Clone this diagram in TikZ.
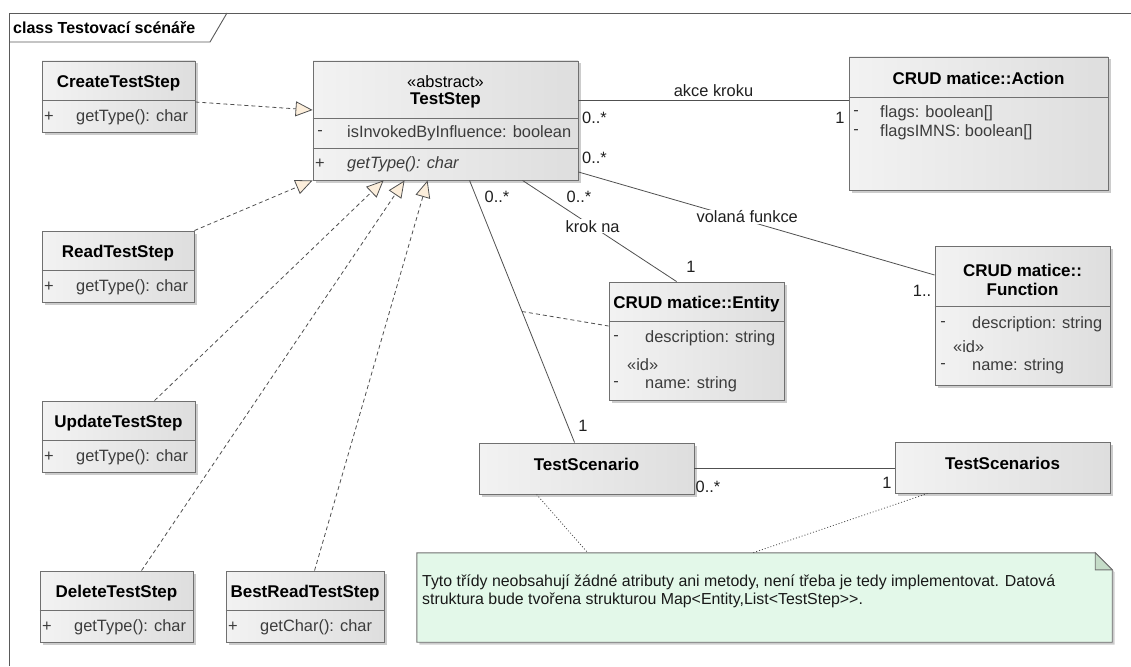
\documentclass[tikz,border=0pt]{standalone}
\usepackage{fontspec}
\setmainfont{Liberation Sans}
\usetikzlibrary{calc,shadows,arrows.meta}
\definecolor{boxborder}{HTML}{707070}
\definecolor{linecol}{HTML}{505050}
\definecolor{framecol}{HTML}{5A5A5A}
\definecolor{attrcol}{HTML}{3C3C3C}
\definecolor{tribeige}{HTML}{FCEEDB}
\definecolor{notefill}{HTML}{E3F8E9}
\definecolor{notefold}{HTML}{C5DCC8}
\tikzset{
  cls/.style={rectangle, draw=boxborder, line width=0.9pt, inner sep=0pt,
    left color=white!95!black, middle color=white, right color=white!87!black,
    drop shadow={shadow xshift=2.5pt, shadow yshift=-2.5pt, fill=black, opacity=0.2}},
  sepline/.style={draw=boxborder, line width=0.9pt},
  ttl/.style={font=\fontsize{17}{19}\selectfont\bfseries, text=black, inner sep=0pt},
  attr/.style={text=attrcol, anchor=west, inner sep=0pt},
  sgn/.style={text=attrcol, inner sep=0pt},
  lbl/.style={text=black!88, inner sep=1pt},
  assoc/.style={draw=linecol, line width=0.8pt},
  real/.style={draw=linecol, line width=0.8pt, dash pattern=on 4pt off 3pt,
    -{Triangle[fill=tribeige, length=17pt, width=15pt]}},
  acls/.style={draw=linecol, line width=0.8pt, dash pattern=on 4pt off 3pt},
  notelink/.style={draw=linecol, line width=0.8pt, dash pattern=on 1pt off 2pt},
}
\newcommand{\clsbox}[5]{%
  \pgfmathsetmacro\bw{#4-#2}\pgfmathsetmacro\bh{#5-#3}%
  \pgfmathsetmacro\bx{(#2+#4)/2}\pgfmathsetmacro\by{(#3+#5)/2}%
  \node[cls, minimum width=\bw pt, minimum height=\bh pt] (#1) at (\bx,\by) {};}
\newcommand{\sepat}[2]{\draw[sepline] (#1.west |- 0,#2) -- (#1.east |- 0,#2);}
\begin{document}
\begin{tikzpicture}[x=1pt,y=-1pt, font=\fontsize{16.4}{19}\selectfont]
\useasboundingbox (0,0) rectangle (1131,666);
\fill[white] (0,0) rectangle (1131,666);
% frame
\draw[framecol, line width=0.9pt] (9,666) -- (9,13) -- (1131,13);
\draw[framecol, line width=0.9pt] (9,42) -- (210,42) -- (227,13);
\node[ttl, font=\fontsize{16}{19}\selectfont\bfseries, anchor=west] (frameT) at (13,28) {class Testovací scénáře};

% ---------- class boxes ----------
\clsbox{Create}{42}{61}{195}{132}
\sepat{Create}{100}
\node[ttl] (createT) at (118.5,83) {CreateTestStep};
\node[sgn] (createS) at (49,117) {+};
\node[attr] (createM) at (76,117) {getType(): char};

\clsbox{Read}{42}{231}{194}{302}
\sepat{Read}{270}
\node[ttl] (readT) at (118,253) {ReadTestStep};
\node[sgn] (readS) at (49,287) {+};
\node[attr] (readM) at (76,287) {getType(): char};

\clsbox{Update}{42}{401}{195}{472}
\sepat{Update}{440}
\node[ttl] (updateT) at (118.5,423) {UpdateTestStep};
\node[sgn] (updateS) at (49,457) {+};
\node[attr] (updateM) at (76,457) {getType(): char};

\clsbox{Delete}{40}{571}{193}{642}
\sepat{Delete}{610}
\node[ttl] (deleteT) at (116.5,593) {DeleteTestStep};
\node[sgn] (deleteS) at (47,627) {+};
\node[attr] (deleteM) at (74,627) {getType(): char};

\clsbox{BestRead}{226}{571}{384}{642}
\sepat{BestRead}{610}
\node[ttl] (bestT) at (305,593) {BestReadTestStep};
\node[sgn] (bestS) at (233,627) {+};
\node[attr] (bestM) at (260,627) {getChar(): char};

\clsbox{TestStep}{313}{61}{578}{180}
\sepat{TestStep}{118}
\sepat{TestStep}{148}
\node[inner sep=0pt, text=black] (tsStereo) at (445.5,82) {«abstract»};
\node[ttl] (tsT) at (445.5,100) {TestStep};
\node[sgn] (tsS1) at (320,133) {-};
\node[attr] (tsA) at (347,133) {isInvokedByInfluence: boolean};
\node[sgn] (tsS2) at (320,164) {+};
\node[attr] (tsM) at (347,164) {\itshape getType(): char};

\clsbox{Action}{849}{57}{1108}{190}
\sepat{Action}{97}
\node[ttl] (actionT) at (978.5,78) {CRUD matice::Action};
\node[sgn] (actionS1) at (856,113) {-};
\node[attr] (actionA1) at (880,113) {flags: boolean[]};
\node[sgn] (actionS2) at (856,132) {-};
\node[attr] (actionA2) at (880,132) {flagsIMNS: boolean[]};

\clsbox{Entity}{609}{282}{784}{400}
\sepat{Entity}{321}
\node[ttl] (entityT) at (696.5,304) {CRUD matice::Entity};
\node[sgn] (entityS1) at (616,338) {-};
\node[attr] (entityA1) at (645,338) {description: string};
\node[attr] (entityId) at (627,365) {«id»};
\node[sgn] (entityS2) at (616,384) {-};
\node[attr] (entityA2) at (645,384) {name: string};

\clsbox{Function}{935}{246}{1110}{385}
\sepat{Function}{306}
\node[ttl, align=center] (functionT) at (1022.5,279.5) {CRUD matice::\\Function};
\node[sgn] (functionS1) at (943,324) {-};
\node[attr] (functionA1) at (972,324) {description: string};
\node[attr] (functionId) at (953,347) {«id»};
\node[sgn] (functionS2) at (943,366) {-};
\node[attr] (functionA2) at (972,366) {name: string};

\clsbox{Scen}{479}{443}{694}{494}
\node[ttl] (scenT) at (586.5,464) {TestScenario};

\clsbox{Scens}{895}{442}{1110}{493}
\node[ttl] (scensT) at (1002.5,463) {TestScenarios};

% ---------- note ----------
\node[inner sep=0pt, minimum width=695pt, minimum height=89pt] (Note) at (764.5,597.5) {};
\filldraw[draw=boxborder, line width=0.9pt, fill=notefill,
  drop shadow={shadow xshift=2.5pt, shadow yshift=-2.5pt, fill=black, opacity=0.2}]
  (Note.north west) -- ([xshift=-17pt]Note.north east) -- ([yshift=-17pt]Note.north east)
  -- (Note.south east) -- (Note.south west) -- cycle;
\filldraw[draw=boxborder, line width=0.9pt, fill=notefold]
  ([xshift=-17pt]Note.north east) -- ([xshift=-17pt,yshift=-17pt]Note.north east)
  -- ([yshift=-17pt]Note.north east) -- cycle;
\node[anchor=west, align=left, inner sep=0pt, text=black!90,
  font=\fontsize{15.9}{17.5}\selectfont] (noteT) at (422,591.5)
  {Tyto třídy neobsahují žádné atributy ani metody, není třeba je tedy implementovat. Datová\\
   struktura bude tvořena strukturou Map<Entity,List<TestStep>{}>.};

% ---------- realizations ----------
\draw[real] ([yshift=-5.5pt]Create.east) -- ([yshift=10.5pt]TestStep.west);
\draw[real] (Read.north east) -- (TestStep.south west);
\draw[real] ([xshift=113pt]Update.north west) -- ([xshift=71pt]TestStep.south west);
\draw[real] ([xshift=102pt]Delete.north west) -- ([xshift=92pt]TestStep.south west);
\draw[real] ([xshift=89pt]BestRead.north west) -- ([xshift=115pt]TestStep.south west);

% ---------- associations ----------
\draw[assoc] ([yshift=20.5pt]TestStep.east) -- ([yshift=23.5pt]Action.west)
  node[lbl, midway, above=1.5pt] (akceL) {akce kroku};
\node[lbl, anchor=west] (m1) at (581,118) {0..*};
\node[lbl] (m2) at (840,118) {1};

\draw[assoc] ([yshift=-51.5pt]TestStep.east) -- ([yshift=40.5pt]Function.west)
  node[lbl, fill=white, pos=0.474, yshift=4pt] (volL) {volaná funkce};
\node[lbl, anchor=west] (m3) at (581,158) {0..*};
\node[lbl] (m4) at (922,291) {1..};

\draw[assoc] ([xshift=210pt]TestStep.south west) -- ([xshift=68pt]Entity.north west)
  node[lbl, fill=white, pos=0.455] (krokL) {krok na};
\node[lbl] (m5) at (579,197) {0..*};
\node[lbl] (m6) at (691,267) {1};

\draw[assoc] ([xshift=157pt]TestStep.south west) -- ([xshift=96pt]Scen.north west)
  coordinate[midway] (acpt);
\node[lbl] (m7) at (497,197) {0..*};
\node[lbl] (m8) at (583,426) {1};
\draw[acls] (acpt) -- ([yshift=15pt]Entity.west);

\draw[assoc] (Scen.east) -- (Scen.east -| Scens.west);
\node[lbl] (m9) at (708,487) {0..*};
\node[lbl] (m10) at (887,483) {1};

% ---------- note links ----------
\draw[notelink] ([xshift=58pt]Scen.south west) -- ([xshift=171pt]Note.north west);
\draw[notelink] ([xshift=33pt]Scens.south west) -- ([xshift=336pt]Note.north west);
\end{tikzpicture}
\end{document}
